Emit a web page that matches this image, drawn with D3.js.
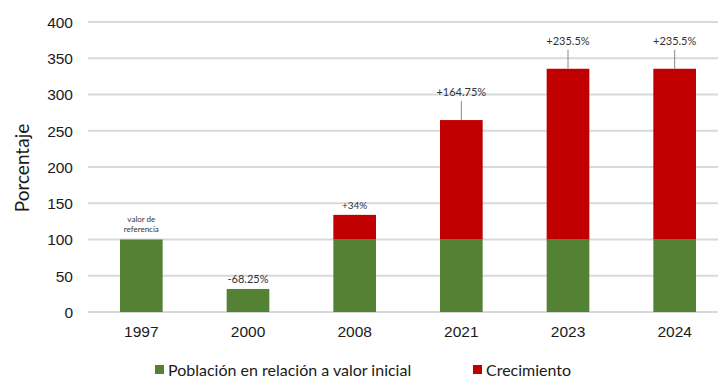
<!DOCTYPE html>
<html>
<head>
<meta charset="utf-8">
<script src="https://cdn.jsdelivr.net/npm/d3@7"></script>
<style>
  html, body { margin: 0; padding: 0; background: #fff; }
  svg { display: block; font-family: Lato, "Open Sans", sans-serif; }
  .grid line { stroke: #d9d9d9; stroke-width: 2; }
  .tick text { fill: #1a1a1a; }
</style>
</head>
<body>
<svg id="chart" width="718" height="384"></svg>
<script>
  var years = ["1997", "2000", "2008", "2021", "2023", "2024"];
  var baseValues = [100, 31.75, 100, 100, 100, 100];
  var growthValues = [0, 0, 34, 164.75, 235.5, 235.5];
  var barLabels = ["valor de\nreferencia", "-68.25%", "+34%", "+164.75%", "+235.5%", "+235.5%"];
  var yTicks = [0, 50, 100, 150, 200, 250, 300, 350, 400];
  var seriesNames = ["Población en relación a valor inicial", "Crecimiento"];
  var colors = ["#548235", "#c00000"];

  var svg = d3.select("#chart");
  var x = d3.scaleBand().domain(years).range([88, 728]).paddingInner(0.6).paddingOuter(0.3);
  var y = d3.scaleLinear().domain([0, 400]).range([312, 22]);

  // gridlines
  svg.append("g").attr("class", "grid")
    .selectAll("line").data(yTicks).enter().append("line")
    .attr("x1", 88).attr("x2", 718)
    .attr("y1", function(d) { return y(d); })
    .attr("y2", function(d) { return y(d); });

  // y axis
  var gy = svg.append("g").attr("transform", "translate(78,0)")
    .call(d3.axisLeft(y).tickValues(yTicks).tickSize(0).tickPadding(5));
  gy.select(".domain").remove();
  gy.selectAll("text").style("font-size", "15.5px").attr("dy", "0.35em");

  // x axis
  var gx = svg.append("g").attr("transform", "translate(0,326)")
    .call(d3.axisBottom(x).tickSize(0).tickPadding(0));
  gx.select(".domain").remove();
  gx.selectAll("text").style("font-size", "15.5px").attr("dy", "0.71em");

  svg.append("text")
    .attr("transform", "translate(29,168) rotate(-90)")
    .attr("text-anchor", "middle")
    .style("font-size", "19px").style("fill", "#1a1a1a")
    .text("Porcentaje");

  var rows = years.map(function(yr, i) {
    return { year: yr, base: baseValues[i], growth: growthValues[i], label: barLabels[i] };
  });

  // stacked bars
  svg.append("g").selectAll("rect").data(rows).enter().append("rect")
    .attr("x", function(d) { return x(d.year); })
    .attr("width", x.bandwidth())
    .attr("y", function(d) { return y(d.base); })
    .attr("height", function(d) { return y(0) - y(d.base); })
    .attr("fill", colors[0]);

  svg.append("g").selectAll("rect").data(rows.filter(function(d) { return d.growth > 0; })).enter().append("rect")
    .attr("x", function(d) { return x(d.year); })
    .attr("width", x.bandwidth())
    .attr("y", function(d) { return y(d.base + d.growth); })
    .attr("height", function(d) { return y(d.base) - y(d.base + d.growth); })
    .attr("fill", colors[1]);

  // leader lines for the tall bars
  var leaderGap = 19;
  svg.append("g").selectAll("line").data(rows.filter(function(d) { return d.growth > 100; })).enter().append("line")
    .attr("x1", function(d) { return x(d.year) + x.bandwidth() / 2; })
    .attr("x2", function(d) { return x(d.year) + x.bandwidth() / 2; })
    .attr("y1", function(d) { return y(d.base + d.growth); })
    .attr("y2", function(d) { return y(d.base + d.growth) - leaderGap; })
    .attr("stroke", "#888").attr("stroke-width", 1);

  // bar labels
  var lbl = svg.append("g").selectAll("text").data(rows).enter().append("text")
    .attr("text-anchor", "middle")
    .style("fill", "#333")
    .attr("x", function(d) { return x(d.year) + x.bandwidth() / 2; })
    .attr("y", function(d) {
      var top = y(d.base + d.growth);
      if (d.growth > 100) return top - leaderGap - 5;
      if (d.label.indexOf("\n") >= 0) return top - 18;
      return top - 6;
    })
    .style("font-size", function(d) {
      if (d.label.indexOf("\n") >= 0) return "8px";
      if (d.growth > 0 && d.growth < 100) return "10px";
      return "11px";
    });
  lbl.each(function(d) {
    var parts = d.label.split("\n");
    var t = d3.select(this);
    parts.forEach(function(p, i) {
      t.append("tspan").attr("x", t.attr("x")).attr("dy", i === 0 ? 0 : "1.3em").text(p);
    });
  });

  // legend
  var legendX = [155, 473];
  var lg = svg.append("g").selectAll("g").data(seriesNames).enter().append("g")
    .attr("transform", function(d, i) { return "translate(" + legendX[i] + ",370)"; });
  lg.append("rect").attr("x", 0).attr("y", -5).attr("width", 9).attr("height", 9)
    .attr("fill", function(d, i) { return colors[i]; });
  lg.append("text").attr("x", 13).attr("dy", "0.35em")
    .style("font-size", "16px").style("fill", "#1a1a1a")
    .text(function(d) { return d; });
</script>
</body>
</html>
